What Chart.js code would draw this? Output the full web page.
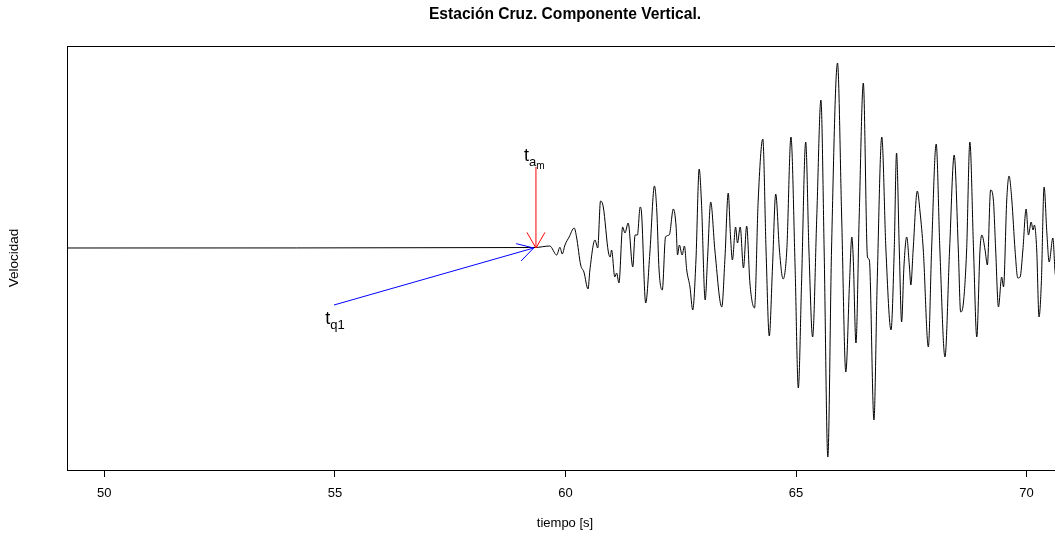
<!DOCTYPE html>
<html>
<head>
<meta charset="utf-8">
<script src="https://cdn.jsdelivr.net/npm/chart.js@4/dist/chart.umd.min.js"></script>
<style>
html, body { margin: 0; padding: 0; background: #fff; overflow: hidden; }
canvas { display: block; }
</style>
</head>
<body>
<canvas id="grafico" width="1075" height="533"></canvas>
<script>
// Registro: tiempo [s] y velocidad (unidades arbitrarias)
const tiempo = [
    49.0, 59.34, 59.66, 59.81, 59.88, 59.93, 59.99, 60.08, 60.19, 60.24,
    60.33, 60.40, 60.49, 60.53, 60.64, 60.70, 60.76, 60.82, 60.93, 60.97,
    61.00, 61.07, 61.11, 61.16, 61.24, 61.29, 61.36, 61.46, 61.51, 61.56,
    61.62, 61.65, 61.74, 61.83, 61.93, 61.98, 62.03, 62.10, 62.17, 62.25,
    62.34, 62.40, 62.43, 62.47, 62.53, 62.58, 62.63, 62.70, 62.76, 62.83,
    62.90, 62.95, 63.03, 63.08, 63.15, 63.24, 63.39, 63.46, 63.53, 63.58,
    63.62, 63.69, 63.73, 63.79, 63.86, 63.93, 64.00, 64.10, 64.18, 64.28,
    64.35, 64.42, 64.49, 64.56, 64.64, 64.72, 64.80, 64.89, 64.98, 65.05,
    65.12, 65.21, 65.28, 65.36, 65.45, 65.54, 65.61, 65.69, 65.77, 65.90,
    65.99, 66.08, 66.16, 66.21, 66.24, 66.30, 66.37, 66.46, 66.55, 66.59,
    66.69, 66.76, 66.86, 66.95, 67.06, 67.13, 67.18, 67.24, 67.29, 67.34,
    67.40, 67.46, 67.49, 67.54, 67.63, 67.69, 67.76, 67.87, 67.94, 68.04,
    68.12, 68.23, 68.33, 68.43, 68.52, 68.57, 68.63, 68.70, 68.77, 68.85,
    68.92, 68.99, 69.03, 69.10, 69.15, 69.22, 69.28, 69.33, 69.39, 69.46,
    69.50, 69.57, 69.62, 69.68, 69.75, 69.81, 69.86, 69.92, 69.99, 70.04,
    70.10, 70.14, 70.17, 70.22, 70.27, 70.32, 70.38, 70.44, 70.49, 70.57,
    70.62, 70.70
];
const velocidad = [
    0, 0.5, 2, -7, 0.7, -6, 3, 11, 20, 11,
    -17, -24, -41, -22, 8, 0, 47, 41, -4, -9,
    -2, -29, -25, -35, 21, 15, 25, -19, 13, 13,
    41, 35, -55, -5, 62, 38, -22, -42, 11, 13,
    39, 21, -7, 3, -7, 2, -22, -39, -62, -12,
    79, 45, -52, -12, 46, -2, -59, -9, 55, 11,
    -12, 21, 5, 21, -20, 22, -35, -60, 48, 109,
    -2, -88, -19, 54, -2, -31, -2, 111, -19, -140,
    -35, 106, -2, -89, 31, 148, -2, -209, -2, 185,
    31, -124, -35, 11, -9, -95, 31, 165, -9, -12,
    -172, -35, 111, -2, -82, -2, 95, -2, -74, -19,
    11, -19, -37, -2, 57, 36, -2, -99, -2, 104,
    -2, -109, -2, 93, -2, -64, -55, -2, 106, -2,
    -89, -2, 13, -2, -17, 58, 48, -2, -59, -29,
    -39, 48, 72, 48, -2, -30, -29, -2, 39, 13,
    26, 18, 23, -2, -69, -35, 61, 15, -14, 10,
    -25, -40
];
const ticksX = [50, 55, 60, 65, 70];

// flechas [t0, v0, t1, v1] (la punta esta en t1, v1)
const flechaAm = [59.36, 81, 59.36, 0];
const flechaQ1 = [54.98, -57, 59.31, 0];
// etiquetas: posicion de la "t" y subindices
const etiquetaAm = { t: 59.10, v: 93, base: 't', sub: 'a', sub2: 'm' };
const etiquetaQ1 = { t: 54.79, v: -70, base: 't', sub: 'q1', sub2: '' };

const fuente = 'Arial, "Liberation Sans", Helvetica, sans-serif';

// dibuja flecha estilo R: linea + punta abierta de 30 grados
function dibujarFlecha(ctx, sx, sy, f, color) {
    const x0 = sx.getPixelForValue(f[0]), y0 = sy.getPixelForValue(f[1]);
    const x1 = sx.getPixelForValue(f[2]), y1 = sy.getPixelForValue(f[3]);
    const ang = Math.atan2(y1 - y0, x1 - x0);
    const largo = 18, abre = Math.PI / 6;
    ctx.save();
    ctx.strokeStyle = color;
    ctx.lineWidth = 1;
    ctx.beginPath();
    ctx.moveTo(x0, y0);
    ctx.lineTo(x1, y1);
    ctx.moveTo(x1 - largo * Math.cos(ang - abre), y1 - largo * Math.sin(ang - abre));
    ctx.lineTo(x1, y1);
    ctx.lineTo(x1 - largo * Math.cos(ang + abre), y1 - largo * Math.sin(ang + abre));
    ctx.stroke();
    ctx.restore();
}

function dibujarEtiqueta(ctx, sx, sy, e) {
    const x = sx.getPixelForValue(e.t);
    const y = sy.getPixelForValue(e.v);
    ctx.save();
    ctx.fillStyle = '#000';
    ctx.textBaseline = 'alphabetic';
    ctx.textAlign = 'left';
    ctx.font = '18px ' + fuente;
    ctx.fillText(e.base, x, y + 6);
    const w = ctx.measureText(e.base).width;
    ctx.font = '13px ' + fuente;
    ctx.fillText(e.sub, x + w, y + 11);
    const w2 = ctx.measureText(e.sub).width;
    if (e.sub2) {
        ctx.font = '10px ' + fuente;
        ctx.fillText(e.sub2, x + w + w2, y + 14);
    }
    ctx.restore();
}

const extras = {
    id: 'extras',
    afterDraw(chart) {
        const ctx = chart.ctx;
        const a = chart.chartArea;
        const sx = chart.scales.x, sy = chart.scales.y;
        // caja del grafico
        ctx.save();
        ctx.strokeStyle = '#000';
        ctx.lineWidth = 1;
        ctx.strokeRect(Math.round(a.left) + 0.5, Math.round(a.top) + 0.5,
            Math.round(a.right - a.left), Math.round(a.bottom - a.top));
        ctx.restore();
        dibujarFlecha(ctx, sx, sy, flechaAm, '#ff0000');
        dibujarFlecha(ctx, sx, sy, flechaQ1, '#0000ff');
        dibujarEtiqueta(ctx, sx, sy, etiquetaAm);
        dibujarEtiqueta(ctx, sx, sy, etiquetaQ1);
    }
};

const ctx = document.getElementById('grafico').getContext('2d');
new Chart(ctx, {
    type: 'line',
    data: {
        datasets: [{
            label: 'registro',
            data: tiempo.map((t, i) => ({ x: t, y: velocidad[i] })),
            borderColor: '#000',
            borderWidth: 1,
            pointRadius: 0,
            cubicInterpolationMode: 'monotone'
        }]
    },
    options: {
        responsive: false,
        animation: false,
        devicePixelRatio: 1,
        layout: { padding: { left: 0, right: 12, top: 0, bottom: 0 } },
        plugins: {
            legend: { display: false },
            tooltip: { enabled: false },
            title: {
                display: true,
                fullSize: false,
                text: 'Estación Cruz. Componente Vertical.',
                color: '#000',
                font: { family: fuente, size: 15.6, weight: 'bold', lineHeight: 1 },
                padding: { top: 7, bottom: 23.4 }
            }
        },
        scales: {
            x: {
                type: 'linear',
                min: 49.19,
                max: 70.79,
                afterBuildTicks(scale) {
                    scale.ticks = ticksX.map(v => ({ value: v }));
                },
                afterFit(scale) { scale.height = 63; },
                grid: {
                    drawOnChartArea: false,
                    drawTicks: true,
                    tickLength: 7,
                    color: '#000'
                },
                border: { display: false },
                ticks: {
                    color: '#000',
                    padding: 9,
                    maxRotation: 0,
                    font: { family: fuente, size: 13 }
                },
                title: {
                    display: true,
                    text: 'tiempo [s]',
                    color: '#000',
                    font: { family: fuente, size: 13 },
                    padding: { top: 0, bottom: 2 }
                }
            },
            y: {
                min: -222,
                max: 202,
                afterFit(scale) { scale.width = 67; },
                grid: { display: false },
                border: { display: false },
                ticks: { display: false },
                title: {
                    display: true,
                    text: 'Velocidad',
                    color: '#000',
                    font: { family: fuente, size: 13.5 },
                    padding: { top: 6, bottom: 0 }
                }
            }
        }
    },
    plugins: [extras]
});
</script>
</body>
</html>
